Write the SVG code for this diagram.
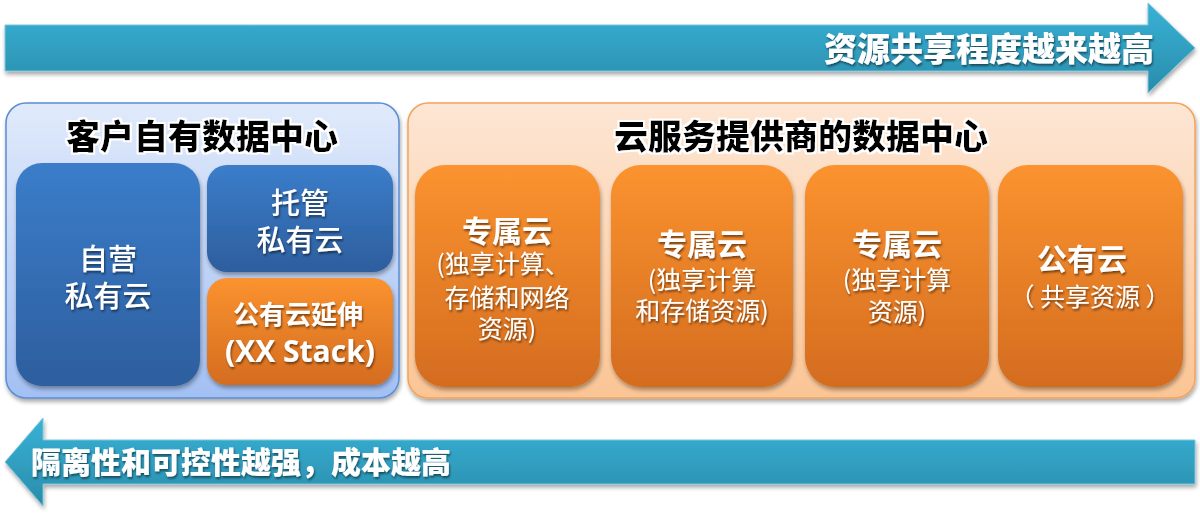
<svg xmlns="http://www.w3.org/2000/svg" width="1200" height="514" viewBox="0 0 1200 514">
<defs>
<linearGradient id="gArrow" x1="0" y1="0" x2="0" y2="1">
<stop offset="0" stop-color="#38b2d6"/><stop offset="1" stop-color="#2a8cab"/>
</linearGradient>
<linearGradient id="gBlueC" x1="0" y1="0" x2="0" y2="1">
<stop offset="0" stop-color="#e0eafb"/><stop offset="1" stop-color="#a3c0f3"/>
</linearGradient>
<linearGradient id="gOrangeC" x1="0" y1="0" x2="0" y2="1">
<stop offset="0" stop-color="#fde6d4"/><stop offset="1" stop-color="#fbc595"/>
</linearGradient>
<linearGradient id="gBlue" x1="0" y1="0" x2="0" y2="1">
<stop offset="0" stop-color="#3b7dca"/><stop offset="1" stop-color="#2d5e9e"/>
</linearGradient>
<linearGradient id="gOrange" x1="0" y1="0" x2="0" y2="1">
<stop offset="0" stop-color="#fb9330"/><stop offset="1" stop-color="#d46c1f"/>
</linearGradient>
<filter id="shadow" x="-5%" y="-10%" width="110%" height="125%">
<feGaussianBlur in="SourceAlpha" stdDeviation="2"/>
<feOffset dx="1" dy="3" result="o"/>
<feComponentTransfer><feFuncA type="linear" slope="0.35"/></feComponentTransfer>
<feMerge><feMergeNode/><feMergeNode in="SourceGraphic"/></feMerge>
</filter>
<filter id="tshadow" x="-10%" y="-20%" width="120%" height="150%">
<feGaussianBlur in="SourceAlpha" stdDeviation="1.2"/>
<feOffset dx="1" dy="1.5"/>
<feComponentTransfer><feFuncA type="linear" slope="0.5"/></feComponentTransfer>
<feMerge><feMergeNode/><feMergeNode in="SourceGraphic"/></feMerge>
</filter>
<filter id="glow" x="-10%" y="-30%" width="120%" height="160%">
<feMorphology in="SourceAlpha" operator="dilate" radius="1.5" result="d"/>
<feGaussianBlur in="d" stdDeviation="1"/>
<feFlood flood-color="#ffffff"/>
<feComposite operator="in" in2="d"/>
<feMerge><feMergeNode/><feMergeNode in="SourceGraphic"/></feMerge>
</filter>
</defs>
<style>
text{font-family:"Noto Sans CJK SC","Noto Sans",sans-serif;text-anchor:middle;}
.big{font-size:33px;font-weight:900;fill:#fff;}
.title{font-size:34px;font-weight:900;fill:#000;}
.w{fill:#fff;}
.hb{font-size:30px;font-weight:700;}
.h{font-size:29px;font-weight:500;}
.s{font-size:25px;font-weight:400;}
.xs{font-size:26px;font-weight:700;}
</style>

<g id="connectors">
<path id="arrow-top" d="M5,25 H1148 V3 L1195,48 L1148,93 V71 H5 Z" fill="url(#gArrow)" stroke="#7cc6dd" stroke-width="1" filter="url(#shadow)"/>
<path id="arrow-bottom" d="M1195,440 H43 V418 L5,462 L43,506 V484 H1195 Z" fill="url(#gArrow)" stroke="#7cc6dd" stroke-width="1" filter="url(#shadow)"/>
<text class="big" x="989" y="61" filter="url(#tshadow)">资源共享程度越来越高</text>
<text class="big" x="241" y="473" style="font-size:30px" filter="url(#tshadow)">隔离性和可控性越强，成本越高</text>
</g>

<g id="customer-dc">
<rect x="6" y="103" width="393" height="295" rx="20" fill="url(#gBlueC)" stroke="#5b8cd2" stroke-width="1.5" filter="url(#shadow)"/>
<text class="title" x="202" y="149" filter="url(#glow)">客户自有数据中心</text>
</g>

<g id="self-private">
<rect x="16" y="163" width="184" height="223" rx="26" fill="url(#gBlue)" filter="url(#shadow)"/>
<text class="w h" x="108" y="270" filter="url(#tshadow)">自营</text>
<text class="w h" x="108" y="307" filter="url(#tshadow)">私有云</text>
</g>

<g id="hosted-private">
<rect x="207" y="165" width="186" height="107" rx="20" fill="url(#gBlue)" filter="url(#shadow)"/>
<text class="w h" x="300" y="214" filter="url(#tshadow)">托管</text>
<text class="w h" x="300" y="251" filter="url(#tshadow)">私有云</text>
</g>

<g id="public-ext">
<rect x="207" y="278" width="186" height="107" rx="20" fill="url(#gOrange)" filter="url(#shadow)"/>
<text class="w xs" x="298" y="324" filter="url(#tshadow)">公有云延伸</text>
<text class="w" x="300" y="362" style="font-size:30px;font-weight:700;font-family:'Open Sans','Noto Sans',sans-serif" filter="url(#tshadow)">(XX Stack)</text>
</g>

<g id="provider-dc">
<rect x="408" y="103" width="787" height="295" rx="20" fill="url(#gOrangeC)" stroke="#f3a25c" stroke-width="1.5" filter="url(#shadow)"/>
<text class="title" x="801" y="149" filter="url(#glow)">云服务提供商的数据中心</text>
</g>

<g id="dedicated-1">
<rect x="415" y="165" width="185" height="222" rx="30" fill="url(#gOrange)" filter="url(#shadow)"/>
<text class="w hb" x="507" y="242" filter="url(#tshadow)">专属云</text>
<text class="w s" x="503" y="273" filter="url(#tshadow)">(独享计算、</text>
<text class="w s" x="507" y="307" filter="url(#tshadow)">存储和网络</text>
<text class="w s" x="507" y="338" filter="url(#tshadow)">资源)</text>
</g>

<g id="dedicated-2">
<rect x="611" y="165" width="182" height="222" rx="30" fill="url(#gOrange)" filter="url(#shadow)"/>
<text class="w hb" x="702" y="255" filter="url(#tshadow)">专属云</text>
<text class="w s" x="702" y="289" filter="url(#tshadow)">(独享计算</text>
<text class="w s" x="702" y="320" filter="url(#tshadow)">和存储资源)</text>
</g>

<g id="dedicated-3">
<rect x="805" y="165" width="184" height="222" rx="30" fill="url(#gOrange)" filter="url(#shadow)"/>
<text class="w hb" x="897" y="255" filter="url(#tshadow)">专属云</text>
<text class="w s" x="897" y="289" filter="url(#tshadow)">(独享计算</text>
<text class="w s" x="897" y="321" filter="url(#tshadow)">资源)</text>
</g>

<g id="public-cloud">
<rect x="998" y="165" width="185" height="222" rx="30" fill="url(#gOrange)" filter="url(#shadow)"/>
<text class="w hb" x="1082" y="270" filter="url(#tshadow)">公有云</text>
<text class="w s" x="1090" y="306" filter="url(#tshadow)">（ 共享资源 ）</text>
</g>
</svg>
